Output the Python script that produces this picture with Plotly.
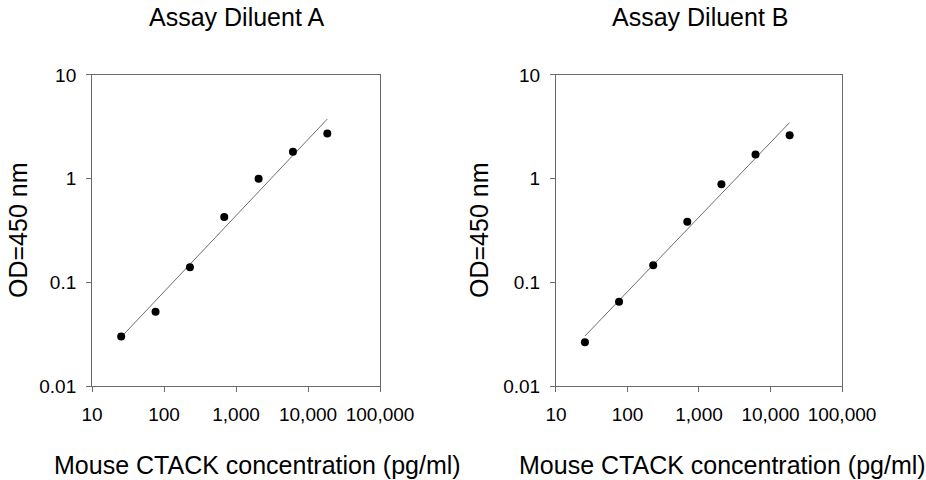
import numpy as np
import plotly.graph_objects as go

# concentrations (pg/ml), 3-fold dilution series
conc = [25.4, 76.2, 229, 686, 2058, 6173, 18519]

# OD450 readings for the two diluents
od_a = [0.030, 0.052, 0.140, 0.427, 1.00, 1.82, 2.72]
od_b = [0.0264, 0.065, 0.146, 0.385, 0.882, 1.71, 2.62]

panel_titles = ["Assay Diluent A", "Assay Diluent B"]
x_title = "Mouse CTACK concentration (pg/ml)"
y_title = "OD=450 nm"

x_tickvals = [10, 100, 1000, 10000, 100000]
x_ticktext = ["10", "100", "1,000", "10,000", "100,000"]
y_tickvals = [0.01, 0.1, 1, 10]
y_ticktext = ["0.01", "0.1", "1", "10"]

FONT = "Liberation Sans, Arial, sans-serif"
AXIS_COL = "#6a6a6a"


def fit_line(x, y):
    # straight line in log-log space (least squares)
    lx, ly = np.log10(x), np.log10(y)
    k, b = np.polyfit(lx, ly, 1)
    xs = np.array([min(x), max(x)])
    return xs, 10 ** (k * np.log10(xs) + b)


fig = go.Figure()

domains = [[0.0994, 0.4104], [0.6004, 0.9093]]
ydom = [0.1958, 0.8438]

for i, od in enumerate([od_a, od_b]):
    xa = "x" if i == 0 else "x2"
    ya = "y" if i == 0 else "y2"
    fx, fy = fit_line(conc, od)
    fig.add_trace(go.Scatter(x=fx, y=fy, mode="lines",
                             line=dict(color="#6e6e6e", width=1),
                             xaxis=xa, yaxis=ya, showlegend=False))
    fig.add_trace(go.Scatter(x=conc, y=od, mode="markers",
                             marker=dict(color="black", size=8),
                             xaxis=xa, yaxis=ya, showlegend=False))

axis_common = dict(showgrid=False, zeroline=False, showline=True,
                   linecolor=AXIS_COL, linewidth=1, mirror=True,
                   ticks="outside", ticklen=5, tickcolor=AXIS_COL,
                   automargin=False,
                   tickfont=dict(family=FONT, size=19, color="black"))

layout = dict(width=926, height=480, margin=dict(l=0, r=0, t=0, b=0),
              template="simple_white",
              paper_bgcolor="white", plot_bgcolor="white",
              font=dict(family=FONT, color="black"))

for i in range(2):
    sfx = "" if i == 0 else "2"
    layout["xaxis" + sfx] = dict(axis_common, type="log", range=[1, 5],
                                 domain=domains[i], anchor="y" + sfx,
                                 tickvals=x_tickvals, ticktext=x_ticktext,
                                 ticklabelstandoff=6)
    layout["yaxis" + sfx] = dict(axis_common, type="log", range=[-2, 1],
                                 domain=ydom, anchor="x" + sfx,
                                 tickvals=y_tickvals, ticktext=y_ticktext,
                                 ticklabelstandoff=6)

fig.update_layout(**layout)

anns = []
title_x = [236 / 926, 700 / 926]
xt_x = [257 / 926, 722 / 926]
yt_x = [18 / 926, 479 / 926]
for i in range(2):
    anns.append(dict(text=panel_titles[i], x=title_x[i], y=1 - 17 / 480,
                     xref="paper", yref="paper", showarrow=False,
                     xanchor="center", yanchor="middle",
                     font=dict(family=FONT, size=25, color="black")))
    anns.append(dict(text=x_title, x=xt_x[i], y=1 - 465 / 480,
                     xref="paper", yref="paper", showarrow=False,
                     xanchor="center", yanchor="middle",
                     font=dict(family=FONT, size=25, color="black")))
    anns.append(dict(text=y_title, x=yt_x[i], y=1 - 230 / 480,
                     xref="paper", yref="paper", showarrow=False,
                     textangle=-90, xanchor="center", yanchor="middle",
                     font=dict(family=FONT, size=25, color="black")))
fig.update_layout(annotations=anns)

# drop the browser's default 8px page margin so the figure fills the window
fig.write_html("out.html", config={"displayModeBar": False},
               post_script="document.body.style.margin='0';")
